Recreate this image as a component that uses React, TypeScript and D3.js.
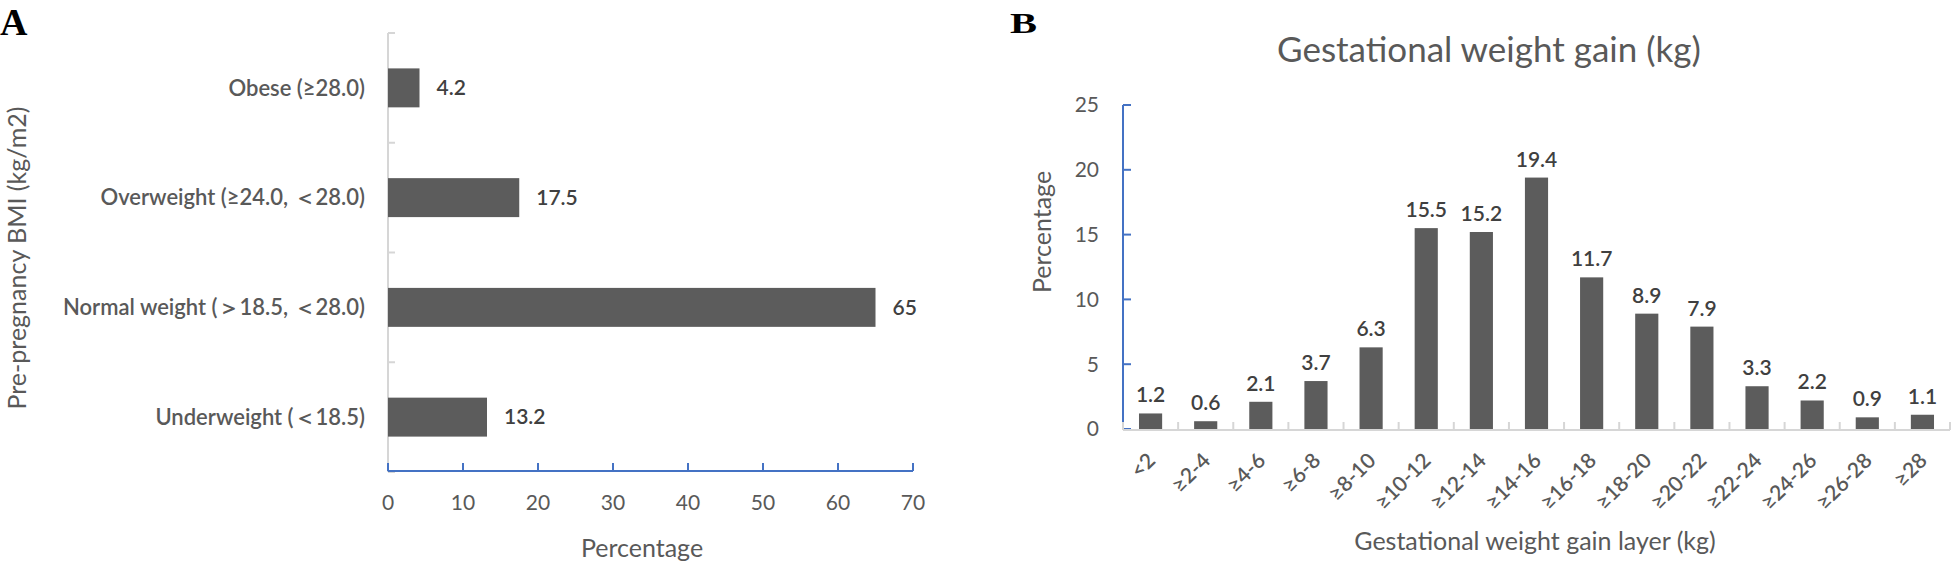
import React from 'react';
import * as d3 from 'd3';

// Panel A data (top-to-bottom order as drawn)
const bmiCategories = ['Obese (≥28.0)', 'Overweight (≥24.0, ＜28.0)', 'Normal weight (＞18.5, ＜28.0)', 'Underweight (＜18.5)'];
const bmiValues = [4.2, 17.5, 65, 13.2];
const bmiTicks = [0, 10, 20, 30, 40, 50, 60, 70];

// Panel B data
const gwgCategories = ['<2', '≥2-4', '≥4-6', '≥6-8', '≥8-10', '≥10-12', '≥12-14', '≥14-16', '≥16-18', '≥18-20', '≥20-22', '≥22-24', '≥24-26', '≥26-28', '≥28'];
const gwgValues = [1.2, 0.6, 2.1, 3.7, 6.3, 15.5, 15.2, 19.4, 11.7, 8.9, 7.9, 3.3, 2.2, 0.9, 1.1];
const gwgTicks = [0, 5, 10, 15, 20, 25];

const FONT = 'Lato, "Noto Sans", sans-serif';
const BAR = '#5c5c5c';
const AXIS_TXT = '#595959';
const VAL_TXT = '#404040';
const BLUE = '#4472c4';
const GRAY = '#d6d6d6';

export default function App() {
  // Panel A scales
  const ax = d3.scaleLinear().domain([0, 70]).range([388, 913]);
  const ay = d3.scaleBand<string>().domain(bmiCategories).range([33, 472]).paddingInner(0.645).paddingOuter(0.3225);
  const aStep = ay.step();

  // Panel B scales
  const bx = d3.scaleBand<string>().domain(gwgCategories).range([1123, 1950]).paddingInner(0.58).paddingOuter(0.29);
  const by = d3.scaleLinear().domain([0, 25]).range([429, 105]);
  const bStep = bx.step();

  return (
    <svg width={1952} height={564} style={{ position: 'absolute', left: 0, top: 0, background: '#fff' }} fontFamily={FONT}>
      <rect x={0} y={0} width={1952} height={564} fill="#fff" />
      {/* Panel labels */}
      <text x={0} y={35} fontFamily='"Liberation Serif", "Times New Roman", serif' fontWeight="bold" fontSize={38} fill="#000">A</text>
      <text x={1010} y={33} fontFamily='"Liberation Serif", "Times New Roman", serif' fontWeight="bold" fontSize={30} fill="#000" transform="translate(1010,33) scale(1.35,1) translate(-1010,-33)">B</text>

      {/* ===== Panel A ===== */}
      <line x1={388} x2={388} y1={33} y2={472} stroke={GRAY} strokeWidth={2} />
      {d3.range(bmiCategories.length + 1).map(i => (
        <line key={'at' + i} x1={388} x2={395} y1={33 + i * aStep} y2={33 + i * aStep} stroke={GRAY} strokeWidth={2} />
      ))}
      {bmiCategories.map((c, i) => (
        <rect key={'ab' + i} x={ax(0)} y={ay(c)!} width={ax(bmiValues[i]) - ax(0)} height={ay.bandwidth()} fill={BAR} />
      ))}
      {bmiCategories.map((c, i) => (
        <text key={'av' + i} x={ax(bmiValues[i]) + 17} y={ay(c)! + ay.bandwidth() / 2} dy="0.35em" fontSize={21} fontWeight={600} fill={VAL_TXT}>{bmiValues[i]}</text>
      ))}
      {bmiCategories.map((c, i) => (
        <text key={'ac' + i} x={365} y={ay(c)! + ay.bandwidth() / 2} dy="0.35em" textAnchor="end" fontSize={22} fontWeight={600} fill={AXIS_TXT}>{c}</text>
      ))}
      <line x1={ax(0)} x2={ax(70)} y1={471} y2={471} stroke={BLUE} strokeWidth={2} />
      {bmiTicks.map(t => (
        <g key={'axt' + t}>
          <line x1={ax(t)} x2={ax(t)} y1={471} y2={463} stroke={BLUE} strokeWidth={2} />
          <text x={ax(t)} y={503} dy="0.35em" textAnchor="middle" fontSize={21} fill={AXIS_TXT}>{t}</text>
        </g>
      ))}
      <text x={642} y={557} textAnchor="middle" fontSize={25} fill={AXIS_TXT}>Percentage</text>
      <text transform="translate(17,258) rotate(-90)" dy="0.35em" textAnchor="middle" fontSize={25} fill={AXIS_TXT}>Pre-pregnancy BMI (kg/m2)</text>

      {/* ===== Panel B ===== */}
      <text x={1489} y={50} dy="0.35em" textAnchor="middle" fontSize={35} fill={AXIS_TXT}>Gestational weight gain (kg)</text>
      <line x1={1123} x2={1123} y1={by(25)} y2={by(0)} stroke={BLUE} strokeWidth={2} />
      {gwgTicks.map(t => (
        <g key={'byt' + t}>
          <line x1={1123} x2={1131} y1={by(t)} y2={by(t)} stroke={BLUE} strokeWidth={2} />
          <text x={1099} y={by(t)} dy="0.35em" textAnchor="end" fontSize={21} fill={AXIS_TXT}>{t}</text>
        </g>
      ))}
      <text transform="translate(1042,232) rotate(-90)" dy="0.35em" textAnchor="middle" fontSize={25} fill={AXIS_TXT}>Percentage</text>
      {gwgCategories.map((c, i) => (
        <rect key={'bb' + i} x={bx(c)!} y={by(gwgValues[i])} width={bx.bandwidth()} height={by(0) - by(gwgValues[i])} fill={BAR} />
      ))}
      <line x1={1123} x2={1950} y1={430} y2={430} stroke={GRAY} strokeWidth={2} />
      {d3.range(gwgCategories.length + 1).map(i => (
        <line key={'bxt' + i} x1={1123 + i * bStep} x2={1123 + i * bStep} y1={430} y2={422} stroke={GRAY} strokeWidth={2} />
      ))}
      {gwgCategories.map((c, i) => (
        <text key={'bv' + i} x={bx(c)! + bx.bandwidth() / 2} y={by(gwgValues[i]) - 11} textAnchor="middle" fontSize={21} fontWeight={600} fill={VAL_TXT}>{gwgValues[i]}</text>
      ))}
      {gwgCategories.map((c, i) => (
        <text key={'bl' + i} transform={`translate(${bx(c)! + bx.bandwidth() / 2 + 6},${462}) rotate(-45)`} textAnchor="end" fontSize={21} fontWeight={600} fill={AXIS_TXT}>{c}</text>
      ))}
      <text x={1535} y={550} textAnchor="middle" fontSize={25} fill={AXIS_TXT}>Gestational weight gain layer (kg)</text>
    </svg>
  );
}
